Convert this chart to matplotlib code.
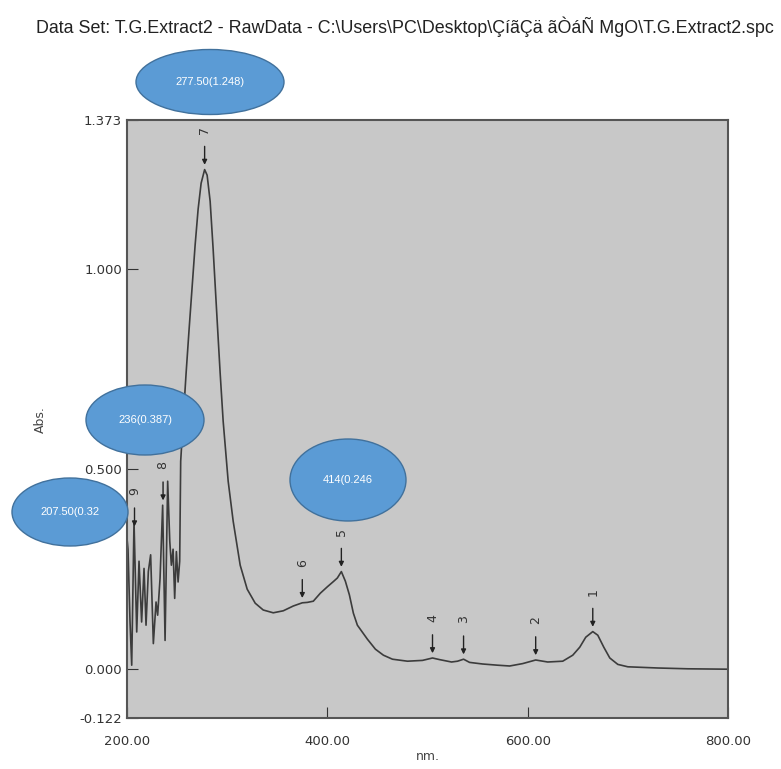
import numpy as np
import matplotlib.pyplot as plt
from matplotlib.patches import Ellipse

# spectrum (nm, Abs.)
wl = [200, 201, 203, 204.7, 207, 209.7, 212, 214.6, 217, 219, 221.3, 223.6, 226.3,
      229, 230.6, 233, 235.6, 238, 240.6, 242.7, 244.3, 246, 247.6, 249.3, 251, 252.6,
      253.6, 256, 259, 262, 265, 268, 271, 274, 277.5, 280, 283, 286, 290, 293, 296,
      301, 306, 313, 320, 328, 336, 346, 356, 366, 375, 380, 386, 393, 400, 406, 410,
      414, 418, 422, 426, 430, 440, 448, 456, 465, 480, 495, 505, 512, 524, 530, 536,
      542, 555, 570, 582, 595, 608, 620, 635, 645, 652, 658, 665, 670, 676, 682, 690,
      700, 730, 760, 800]
absb = [0.327, 0.30, 0.12, 0.01, 0.37, 0.093, 0.27, 0.118, 0.252, 0.11, 0.244, 0.286, 0.064,
        0.168, 0.135, 0.227, 0.41, 0.072, 0.47, 0.32, 0.26, 0.30, 0.177, 0.294, 0.218, 0.27,
        0.52, 0.62, 0.74, 0.85, 0.955, 1.06, 1.15, 1.215, 1.249, 1.235, 1.17, 1.05, 0.872, 0.74, 0.62,
        0.47, 0.37, 0.26, 0.20, 0.165, 0.148, 0.141, 0.146, 0.158, 0.166, 0.167, 0.17, 0.19, 0.206, 0.219, 0.228,
        0.244, 0.22, 0.186, 0.14, 0.11, 0.075, 0.05, 0.035, 0.025, 0.02, 0.022, 0.028, 0.024, 0.018, 0.02, 0.025,
        0.017, 0.013, 0.01, 0.008, 0.014, 0.023, 0.018, 0.02, 0.035, 0.055, 0.08, 0.094, 0.085, 0.055, 0.028, 0.012,
        0.006, 0.003, 0.001, 0.0]

# picked peaks
pk_num = ['1', '2', '3', '4', '5', '6', '7', '8', '9']
pk_wl = [665, 608, 536, 505, 414, 375, 277.5, 236, 207.5]
pk_abs = [0.094, 0.023, 0.025, 0.028, 0.244, 0.166, 1.249, 0.41, 0.345]

# callouts (text, centre x, centre y, width, height) in figure pixels
call_txt = ['277.50(1.248)', '236(0.387)', '207.50(0.32', '414(0.246']
call_pos = [(210, 82, 148, 65), (145, 420, 118, 70), (70, 512, 116, 68), (348, 480, 116, 82)]

W, H = 781, 769
fig = plt.figure(figsize=(W / 100, H / 100), dpi=100)
ax = fig.add_axes([127 / W, 1 - 718 / H, 601 / W, 598 / H])
ax.set_facecolor('#c8c8c8')
ax.plot(wl, absb, color='#3c3c3c', lw=1.2)

for n, x, y in zip(pk_num, pk_wl, pk_abs):
    ax.annotate('', xy=(x, y + 0.005), xytext=(x, y + 0.065),
                arrowprops=dict(arrowstyle='-|>', color='#222222', lw=1.0, mutation_scale=7))
    ax.text(x, y + 0.09, n, rotation=90, ha='center', va='bottom', fontsize=9, color='#333333')

ax.set_xlim(200, 800)
ax.set_ylim(-0.122, 1.373)
ax.set_xticks([200, 400, 600, 800])
ax.set_xticklabels(['200.00', '400.00', '600.00', '800.00'])
ax.set_yticks([-0.122, 0.0, 0.5, 1.0, 1.373])
ax.set_yticklabels(['-0.122', '0.000', '0.500', '1.000', '1.373'])
ax.tick_params(direction='in', length=8, labelsize=9.5, labelcolor='#333333', color='#333333')
ax.tick_params(axis='x', pad=12)
for s in ax.spines.values():
    s.set_color('#555555')
    s.set_linewidth(1.5)

fig.text(405 / W, 1 - 27 / H,
         'Data Set: T.G.Extract2 - RawData - C:\\Users\\PC\\Desktop\\ÇíãÇä ãÒáÑ MgO\\T.G.Extract2.spc',
         ha='center', va='center', fontsize=12.9, color='#222222',
         family=['Liberation Sans', 'DejaVu Sans'])
fig.text(40 / W, 1 - 420 / H, 'Abs.', rotation=90, ha='center', va='center', fontsize=9, color='#444444')
fig.text(428 / W, 1 - 757 / H, 'nm.', ha='center', va='center', fontsize=9, color='#444444')

# overlay for the blue callouts
ov = fig.add_axes([0, 0, 1, 1])
ov.set_xlim(0, W)
ov.set_ylim(H, 0)
ov.axis('off')
for t, (cx, cy, w, h) in zip(call_txt, call_pos):
    ov.add_patch(Ellipse((cx, cy), w, h, facecolor='#5b9bd5', edgecolor='#41719c', lw=1.0))
    ov.text(cx, cy, t, ha='center', va='center', color='white', fontsize=8,
            family=['Liberation Sans', 'DejaVu Sans'])

fig.savefig('out.png', dpi=100)
